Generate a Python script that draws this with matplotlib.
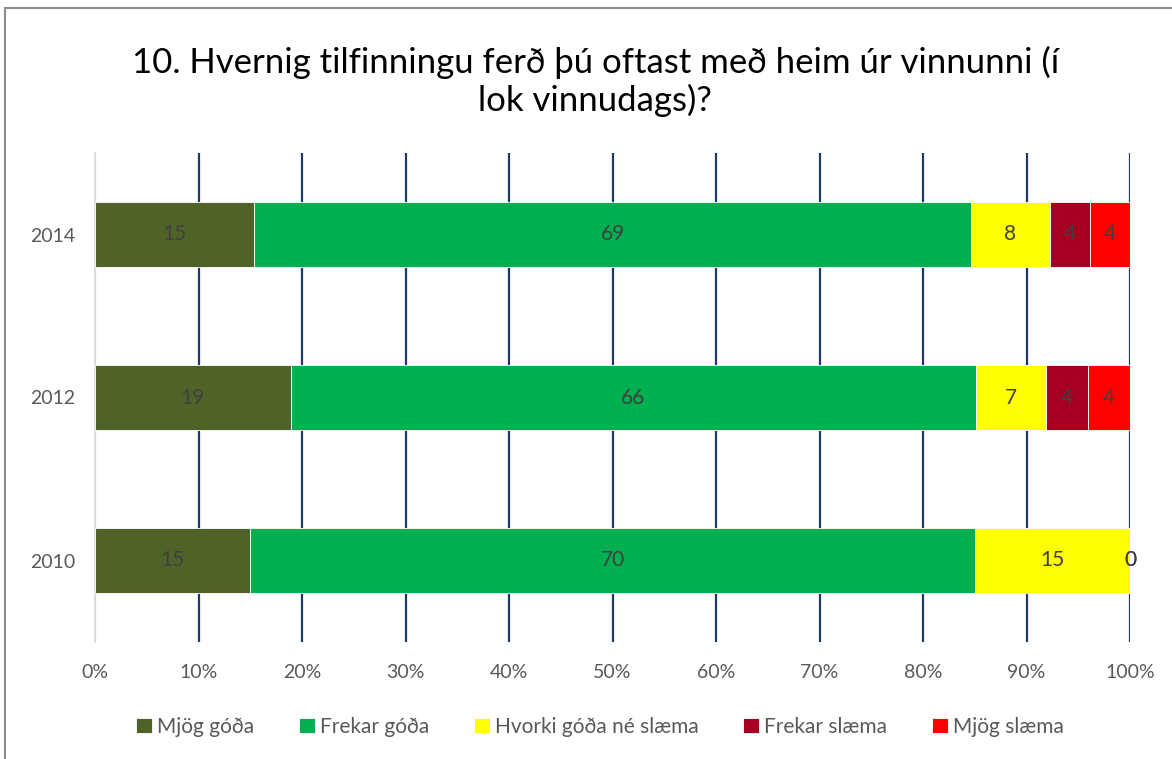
import matplotlib
matplotlib.use("Agg")
import matplotlib.pyplot as plt
from matplotlib.patches import Rectangle

# survey shares (%) per year, five answer categories
years = ["2010", "2012", "2014"]
categories = ["Mjög góða", "Frekar góða", "Hvorki góða né slæma", "Frekar slæma", "Mjög slæma"]
mjog_goda = [15.0, 18.9, 15.4]
frekar_goda = [70.0, 66.2, 69.2]
hvorki = [15.0, 6.8, 7.7]
frekar_slaema = [0.0, 4.05, 3.85]
mjog_slaema = [0.0, 4.05, 3.85]
series = [mjog_goda, frekar_goda, hvorki, frekar_slaema, mjog_slaema]
colors = ["#4F6228", "#00B050", "#FFFF00", "#A50021", "#FF0000"]
xticks = [0, 10, 20, 30, 40, 50, 60, 70, 80, 90, 100]

plt.rcParams["font.family"] = ["Lato", "DejaVu Sans"]

fig = plt.figure(figsize=(11.72, 7.59), dpi=100)
ax = fig.add_axes([95 / 1172, 1 - 642 / 759, 1035 / 1172, 489 / 759])

left = [0.0] * len(years)
for vals, name, col in zip(series, categories, colors):
    bars = ax.barh(years, vals, left=left, height=0.4, color=col,
                   edgecolor="white", linewidth=0.6, label=name, zorder=3)
    ax.bar_label(bars, labels=[f"{v:.0f}" for v in vals], label_type="center",
                 fontsize=15, color="#404040", zorder=4)
    left = [a + b for a, b in zip(left, vals)]

ax.set_xlim(0, 100)
ax.set_ylim(-0.5, 2.5)
ax.set_xticks(xticks)
ax.set_xticklabels([f"{t}%" for t in xticks])
ax.tick_params(axis="both", length=0, labelsize=14, colors="#595959")
ax.tick_params(axis="x", pad=16)
ax.tick_params(axis="y", pad=14)
ax.xaxis.grid(True, color="#1F3864", linewidth=1.6, zorder=0)
ax.get_xgridlines()[0].set_color("#D9D9D9")
for side in ["top", "right", "bottom"]:
    ax.spines[side].set_visible(False)
ax.spines["left"].set_color("#D9D9D9")
ax.spines["left"].set_linewidth(1.2)

fig.text(0.508, 1 - 62 / 759, "10. Hvernig tilfinningu ferð þú oftast með heim úr vinnunni (í",
         ha="center", va="center", fontsize=25, color="#000000")
fig.text(0.508, 1 - 100 / 759, "lok vinnudags)?",
         ha="center", va="center", fontsize=25, color="#000000")

fig.legend(loc="center", bbox_to_anchor=(0.512, 1 - 727 / 759), ncol=5, frameon=False,
           fontsize=15, handlelength=0.75, handleheight=0.75, handletextpad=0.25,
           columnspacing=2.15, labelcolor="#595959")

# outer chart frame
fig.patches.append(Rectangle((5 / 1172, -0.01), 1.1, 1 - 8 / 759 + 0.01, transform=fig.transFigure,
                             fill=False, edgecolor="#8C8C8C", linewidth=1.5))

fig.savefig("out.png", dpi=100)
